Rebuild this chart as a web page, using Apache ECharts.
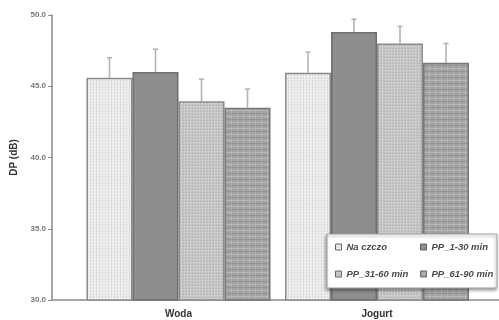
<!DOCTYPE html>
<html><head><meta charset="utf-8">
<script src="https://cdn.jsdelivr.net/npm/echarts@6/dist/echarts.min.js"></script>
<style>html,body{margin:0;padding:0;background:#fff}#c{width:499px;height:320px}</style>
</head><body><div id="c"></div>
<script>
var categories = ['Woda', 'Jogurt'];
var seriesNames = ['Na czczo', 'PP_1-30 min', 'PP_31-60 min', 'PP_61-90 min'];
var naCzczo = [45.6, 45.95];
var pp1_30 = [46.0, 48.8];
var pp31_60 = [43.95, 48.0];
var pp61_90 = [43.5, 46.65];
var errNaCzczo = [1.4, 1.45];
var errPp1_30 = [1.6, 0.9];
var errPp31_60 = [1.55, 1.2];
var errPp61_90 = [1.3, 1.35];
var yTicks = [30, 35, 40, 45, 50];

var values = [naCzczo, pp1_30, pp31_60, pp61_90];
var errs = [errNaCzczo, errPp1_30, errPp31_60, errPp61_90];

function pat(w, h, bg, draw) {
  var c = document.createElement('canvas');
  c.width = w; c.height = h;
  var g = c.getContext('2d');
  g.fillStyle = bg; g.fillRect(0, 0, w, h);
  draw(g);
  return {image: c, repeat: 'repeat'};
}
var fills = [
  pat(3, 3, '#ededed', function (g) { g.fillStyle = '#d6d6d6'; g.fillRect(0, 0, 1, 1); g.fillRect(0, 2, 1, 1); }),
  pat(4, 4, '#8f8f91', function (g) { g.fillStyle = '#858587'; g.fillRect(0, 0, 1, 1); g.fillRect(2, 2, 1, 1); }),
  pat(3, 3, '#c4c4c4', function (g) { g.fillStyle = '#e0e0e0'; g.fillRect(1, 1, 1, 1); g.fillStyle = '#b4b4b4'; g.fillRect(0, 0, 1, 1); }),
  pat(6, 6, '#a2a2a2', function (g) { g.fillStyle = '#b6b6b6'; g.fillRect(0, 2, 6, 1); g.fillRect(3, 0, 1, 6); g.fillStyle = '#959595'; g.fillRect(0, 5, 6, 1); })
];
var borders = ['#8a8a8a', '#6e6e6e', '#8c8c8c', '#777777'];

var BAR_W = 46;
var series = [];
values.forEach(function (vals, i) {
  series.push({
    name: seriesNames[i], type: 'bar', xAxisIndex: 1, yAxisIndex: 1,
    barWidth: BAR_W, barGap: '0%', data: vals, z: 2,
    itemStyle: {color: fills[i], borderColor: borders[i], borderWidth: 1.5},
    emphasis: {disabled: true}
  });
});
values.forEach(function (vals, i) {
  series.push({
    type: 'custom', xAxisIndex: 1, yAxisIndex: 1, z: 1,
    data: vals.map(function (v, k) { return [k, v, errs[i][k]]; }),
    renderItem: function (params, api) {
      var base = api.coord([api.value(0), api.value(1)]);
      var top = api.coord([api.value(0), api.value(1) + api.value(2)]);
      var x = base[0] + (i - 1.5) * BAR_W;
      var st = {stroke: '#b4b4b4', lineWidth: 1.6};
      return {type: 'group', children: [
        {type: 'line', shape: {x1: x, y1: base[1], x2: x, y2: top[1]}, style: st},
        {type: 'line', shape: {x1: x - 2.5, y1: top[1], x2: x + 2.5, y2: top[1]}, style: st}
      ]};
    }
  });
});

var txt = {fontFamily: 'Liberation Sans, Arial, sans-serif', fontWeight: 'bold', fontStyle: 'italic', fontSize: 9.5, color: '#4a4a4a'};
var chart = echarts.init(document.getElementById('c'), null, {renderer: 'canvas'});
chart.setOption({
  animation: false,
  backgroundColor: '#fff',
  grid: [
    {left: 52, right: 0, top: 15, bottom: 20},
    {left: 79.25, right: 22.75, top: 15, bottom: 20}
  ],
  xAxis: [
    {type: 'value', gridIndex: 0, min: 0, max: 1, axisLabel: {show: false}, axisTick: {show: false}, splitLine: {show: false},
     axisLine: {show: true, lineStyle: {color: '#8a8a8a', width: 1.5}}},
    {type: 'category', gridIndex: 1, data: categories, axisLine: {show: false}, axisTick: {show: false},
     axisLabel: {margin: 9, fontFamily: 'Liberation Sans, Arial, sans-serif', fontWeight: 'bold', fontSize: 10, color: '#333'}}
  ],
  yAxis: [
    {type: 'value', gridIndex: 0, min: yTicks[0], max: yTicks[yTicks.length - 1], interval: 5,
     name: 'DP (dB)', nameLocation: 'middle', nameRotate: 90, nameGap: 31,
     nameTextStyle: {fontFamily: 'Liberation Sans, Arial, sans-serif', fontWeight: 'bold', fontSize: 10, color: '#333'},
     axisLine: {show: true, lineStyle: {color: '#8a8a8a', width: 1.5}},
     axisTick: {show: true, length: 4, lineStyle: {color: '#8a8a8a', width: 1}},
     splitLine: {show: false},
     axisLabel: {margin: 6, fontFamily: 'Liberation Sans, Arial, sans-serif', fontWeight: 'bold', fontSize: 8, color: '#777',
       formatter: function (v) { return v.toFixed(1); }}},
    {type: 'value', gridIndex: 1, min: 30, max: 50, interval: 5, show: false}
  ],
  legend: [
    {data: [seriesNames[0], seriesNames[2]], orient: 'vertical', left: 335, top: 242, padding: 0, itemGap: 17,
     itemWidth: 6, itemHeight: 6, icon: 'rect', textStyle: txt, z: 12, selectedMode: false,
     itemStyle: {borderColor: '#666', borderWidth: 1}},
    {data: [seriesNames[1], seriesNames[3]], orient: 'vertical', left: 420, top: 242, padding: 0, itemGap: 17,
     itemWidth: 6, itemHeight: 6, icon: 'rect', textStyle: txt, z: 12, selectedMode: false,
     itemStyle: {borderColor: '#666', borderWidth: 1}}
  ],
  graphic: [
    {type: 'rect', z: 10, shape: {x: 327, y: 234, width: 170, height: 54},
     style: {fill: '#fff', stroke: '#a0a0a0', lineWidth: 1, shadowBlur: 3, shadowOffsetX: -1, shadowOffsetY: 2, shadowColor: 'rgba(0,0,0,0.35)'}}
  ],
  series: series
});
</script></body></html>
